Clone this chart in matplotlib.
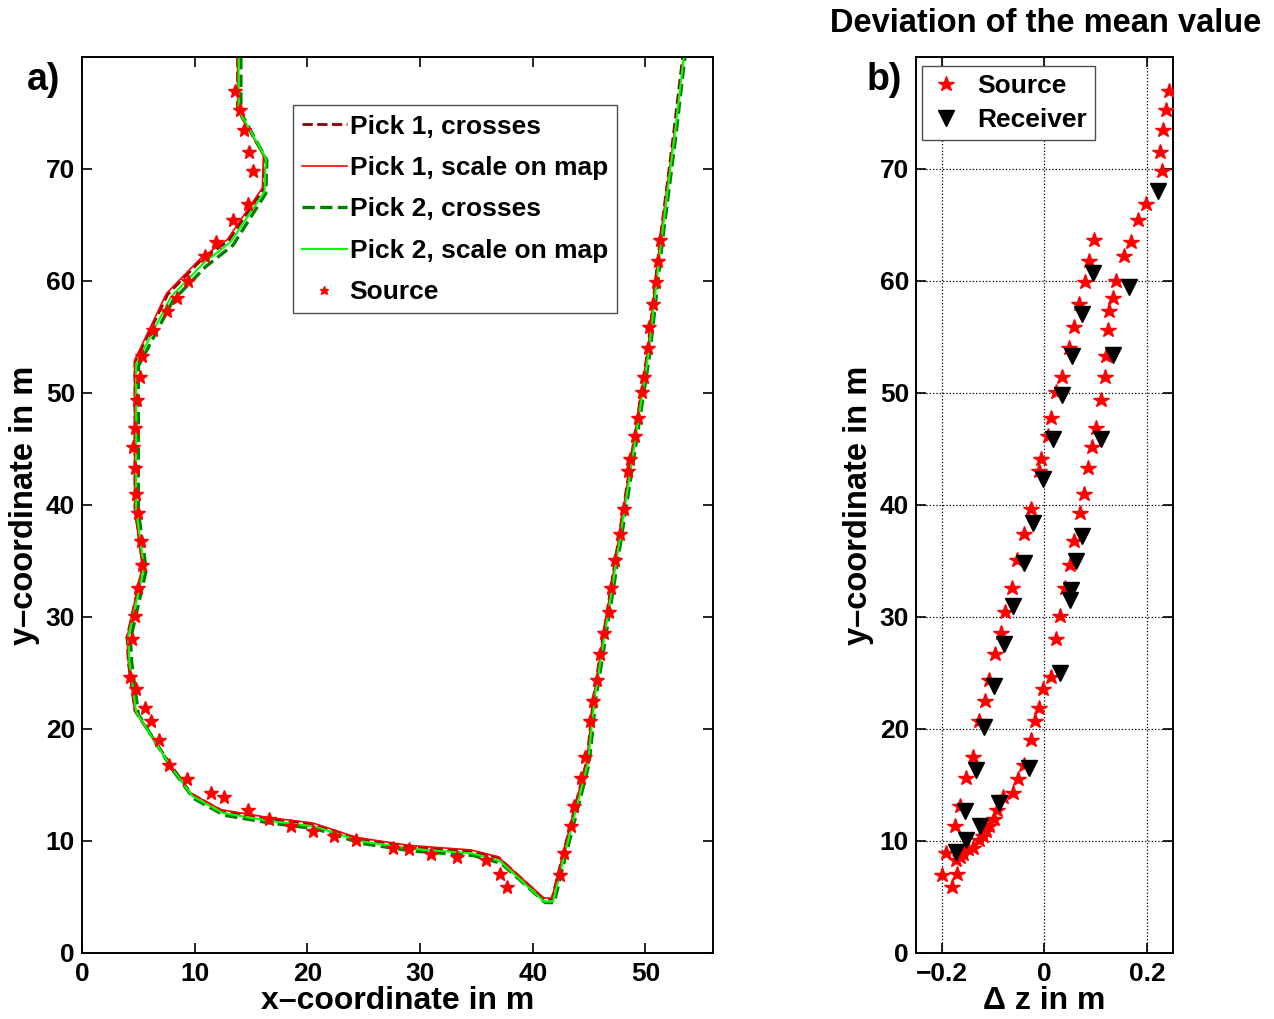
import matplotlib
matplotlib.use('Agg')
import matplotlib.pyplot as plt

plt.rcParams['font.family'] = ['Liberation Sans', 'DejaVu Sans']
plt.rcParams['font.weight'] = 'bold'
plt.rcParams['axes.labelweight'] = 'bold'

# picked profile lines (x, y in m)
pick1_cross_x = [13.8, 13.8, 16.2, 16.1, 13.0, 10.6, 7.6, 4.7, 4.7, 5.4, 4.0, 4.1, 4.7, 7.8, 9.7, 12.4, 16.5, 20.5, 22.4, 24.5, 29.1, 34.5, 37.0, 41.0, 41.7, 42.7, 44.8, 45.4, 46.9, 48.4, 50.2, 51.3, 52.5, 53.3]
pick1_cross_y = [80.0, 75.3, 71.1, 68.2, 63.6, 61.9, 58.8, 52.8, 39.7, 34.5, 28.2, 26.0, 21.6, 16.9, 14.2, 12.7, 12.0, 11.5, 10.9, 10.2, 9.5, 9.1, 8.5, 4.8, 4.8, 8.9, 17.2, 22.9, 32.4, 42.0, 53.8, 63.7, 73.2, 80.0]

pick1_map_x = [13.8, 13.8, 16.1, 16.0, 12.9, 10.5, 7.5, 4.66, 4.66, 5.34, 4.0, 4.1, 4.66, 7.7, 9.6, 12.3, 16.5, 20.5, 22.3, 24.4, 29.1, 34.5, 36.9, 41.0, 41.7, 42.7, 44.8, 45.4, 46.9, 48.4, 50.2, 51.3, 52.6]
pick1_map_y = [80.0, 75.3, 71.2, 68.3, 63.7, 62.0, 58.9, 52.9, 39.8, 34.5, 28.2, 26.0, 21.7, 17.0, 14.3, 12.8, 12.1, 11.6, 11.0, 10.3, 9.6, 9.2, 8.6, 4.9, 4.9, 8.9, 17.2, 22.9, 32.4, 42.0, 53.8, 63.7, 73.5]

pick2_cross_x = [14.1, 14.1, 16.4, 16.3, 13.4, 11.0, 8.1, 5.0, 5.0, 5.7, 4.3, 4.4, 5.0, 8.0, 9.9, 12.6, 16.7, 20.7, 22.6, 24.7, 29.3, 34.7, 37.2, 41.1, 41.9, 42.9, 45.0, 45.6, 47.1, 48.6, 50.4, 51.5, 52.7, 53.5]
pick2_cross_y = [80.0, 75.0, 70.8, 67.8, 63.2, 61.3, 58.3, 52.4, 39.4, 34.2, 28.0, 26.0, 21.3, 16.4, 13.8, 12.3, 11.6, 11.1, 10.5, 9.8, 9.1, 8.7, 8.0, 4.5, 4.5, 8.6, 16.9, 22.7, 32.2, 41.8, 53.6, 63.5, 73.0, 80.0]

pick2_map_x = [13.9, 13.9, 16.3, 16.2, 13.2, 10.8, 7.9, 4.8, 4.8, 5.5, 4.1, 4.2, 4.8, 7.9, 9.8, 12.5, 16.6, 20.6, 22.5, 24.6, 29.2, 34.6, 37.1, 41.0, 41.8, 42.8, 44.9, 45.5, 47.0, 48.5, 50.3, 51.4, 52.6, 53.4]
pick2_map_y = [80.0, 75.2, 71.0, 68.0, 63.5, 61.6, 58.6, 52.6, 39.6, 34.4, 28.2, 26.0, 21.5, 16.6, 14.0, 12.5, 11.8, 11.3, 10.7, 10.0, 9.3, 8.9, 8.2, 4.6, 4.6, 8.7, 17.0, 22.8, 32.3, 41.9, 53.7, 63.6, 73.1, 80.0]

# sources: position and deviation of the mean value
src_x = [13.53, 13.98, 14.36, 14.86, 15.19, 14.75, 13.42, 11.93, 10.87, 9.39,
         8.39, 7.56, 6.32, 5.28, 5.13, 4.90, 4.69, 4.51, 4.69, 4.81,
         4.95, 5.19, 5.28, 4.95, 4.66, 4.39, 4.30, 4.81, 5.57, 6.08,
         6.82, 7.76, 9.27, 11.40, 12.64, 14.75, 16.58, 18.50, 20.48, 22.40,
         24.30, 27.61, 29.00, 31.00, 33.29, 35.89, 37.07, 37.73, 42.40, 42.81,
         43.35, 43.64, 44.29, 44.60, 45.06, 45.36, 45.71, 46.00, 46.30, 46.74,
         46.98, 47.28, 47.78, 48.14, 48.46, 48.67, 49.11, 49.32, 49.65, 49.85,
         50.21, 50.33, 50.65, 50.95, 51.09, 51.27]
src_y = [77.0, 75.3, 73.5, 71.5, 69.8, 66.9, 65.4, 63.5, 62.2, 60.0,
         58.5, 57.3, 55.6, 53.3, 51.4, 49.4, 46.9, 45.2, 43.3, 41.0,
         39.3, 36.8, 34.6, 32.6, 30.1, 28.0, 24.6, 23.6, 21.9, 20.7,
         19.0, 16.8, 15.5, 14.3, 13.9, 12.8, 12.0, 11.3, 10.9, 10.4,
         10.1, 9.35, 9.26, 8.84, 8.6, 8.3, 7.05, 5.9, 7.0, 8.95,
         11.3, 13.1, 15.6, 17.5, 20.7, 22.5, 24.4, 26.7, 28.6, 30.4,
         32.6, 35.1, 37.4, 39.6, 43.0, 44.1, 46.2, 47.8, 50.1, 51.4,
         54.0, 55.9, 57.9, 59.9, 61.8, 63.7]
src_dz = [0.243, 0.236, 0.231, 0.225, 0.229, 0.197, 0.182, 0.168, 0.154, 0.140,
          0.133, 0.126, 0.123, 0.119, 0.117, 0.109, 0.101, 0.093, 0.084, 0.076,
          0.069, 0.057, 0.049, 0.040, 0.030, 0.023, 0.013, -0.003, -0.011, -0.019,
          -0.027, -0.039, -0.052, -0.061, -0.080, -0.092, -0.098, -0.108, -0.113, -0.120,
          -0.127, -0.140, -0.148, -0.158, -0.165, -0.172, -0.170, -0.179, -0.199, -0.191,
          -0.175, -0.165, -0.152, -0.140, -0.127, -0.116, -0.108, -0.096, -0.085, -0.076,
          -0.063, -0.053, -0.040, -0.027, -0.011, -0.006, 0.006, 0.012, 0.023, 0.034,
          0.047, 0.057, 0.067, 0.078, 0.086, 0.097]

# receivers: deviation of the mean value
rec_dz = [0.220, 0.164, 0.095, 0.073, 0.054, 0.133, 0.034, 0.109, 0.017, -0.003,
          -0.022, -0.040, 0.073, 0.062, 0.052, 0.049, -0.061, -0.079, 0.030, -0.098,
          -0.117, -0.134, -0.031, -0.155, -0.089, -0.126, -0.152, -0.173]
rec_y = [68.0, 59.5, 60.7, 57.05, 53.3, 53.4, 49.8, 45.9, 45.9, 42.3,
         38.4, 34.8, 37.2, 35.0, 32.4, 31.5, 31.0, 27.6, 25.0, 23.8,
         20.2, 16.3, 16.5, 12.7, 13.4, 11.3, 10.1, 9.0]

fig = plt.figure(figsize=(12.74, 10.19), dpi=100)

# a) source and picked lines
ax1 = fig.add_axes([0.0644, 0.0648, 0.4953, 0.8793])
ax1.plot(pick1_cross_x, pick1_cross_y, '--', color=(0.55, 0, 0), lw=2.0, label='Pick 1, crosses')
ax1.plot(pick1_map_x, pick1_map_y, '-', color='r', lw=1.2, label='Pick 1, scale on map')
ax1.plot(pick2_cross_x, pick2_cross_y, '--', color=(0, 0.5, 0), lw=2.4, label='Pick 2, crosses')
ax1.plot(pick2_map_x, pick2_map_y, '-', color=(0, 1, 0), lw=1.5, label='Pick 2, scale on map')
ax1.plot(src_x, src_y, '*', color='r', ms=10.5, mec='r', label='Source')
ax1.set_xlim(0, 56)
ax1.set_ylim(0, 80)
ax1.set_xticks([0, 10, 20, 30, 40, 50])
ax1.set_yticks([0, 10, 20, 30, 40, 50, 60, 70])
ax1.set_xlabel('x\u2013coordinate in m', fontsize=23, labelpad=0)
ax1.set_ylabel('y\u2013coordinate in m', fontsize=23.5, labelpad=4)
leg = ax1.legend(loc='upper left', bbox_to_anchor=(0.334, 0.946), borderaxespad=0,
                 fontsize=19, handlelength=1.7, handletextpad=0.1, labelspacing=0.66,
                 borderpad=0.35, fancybox=False, framealpha=1, markerscale=0.6)
leg.get_frame().set_edgecolor((0.3, 0.3, 0.3))
leg.get_frame().set_linewidth(1.0)

# b) deviation of the mean value
ax2 = fig.add_axes([0.719, 0.0648, 0.2017, 0.8793])
ax2.plot(src_dz, src_y, '*', color='r', ms=11.5, mec='r', label='Source', zorder=3)
ax2.plot(rec_dz, rec_y, 'v', color='k', ms=11, label='Receiver', zorder=3)
ax2.set_xlim(-0.25, 0.25)
ax2.set_ylim(0, 80)
ax2.set_xticks([-0.2, 0, 0.2])
ax2.set_xticklabels(['\u22120.2', '0', '0.2'])
ax2.set_yticks([0, 10, 20, 30, 40, 50, 60, 70])
ax2.grid(True, linestyle=':', color='k', lw=0.9)
ax2.set_xlabel('\u0394 z in m', fontsize=23, labelpad=0)
ax2.set_ylabel('y\u2013coordinate in m', fontsize=23.5, labelpad=4)
leg2 = ax2.legend(loc='upper left', bbox_to_anchor=(0.023, 0.99), borderaxespad=0,
                  fontsize=19, handlelength=1.2, handletextpad=0.6, labelspacing=0.4,
                  borderpad=0.3, fancybox=False, framealpha=1)
leg2.get_frame().set_edgecolor((0.3, 0.3, 0.3))
leg2.get_frame().set_linewidth(1.0)

for ax in (ax1, ax2):
    ax.tick_params(direction='in', top=True, right=True, length=7, width=1.2,
                   labelsize=19, pad=5)
    ax.tick_params(axis='x', pad=6.5)
    for s in ax.spines.values():
        s.set_linewidth(1.4)

fig.text(0.034, 1 - 80 / 1019, 'a)', fontsize=27, ha='center', va='center')
fig.text(0.694, 1 - 80 / 1019, 'b)', fontsize=27, ha='center', va='center')
fig.text(0.8205, 1 - 24 / 1019, 'Deviation of the mean value', fontsize=23.5,
         ha='center', va='center')

fig.savefig('out.png', dpi=100)
